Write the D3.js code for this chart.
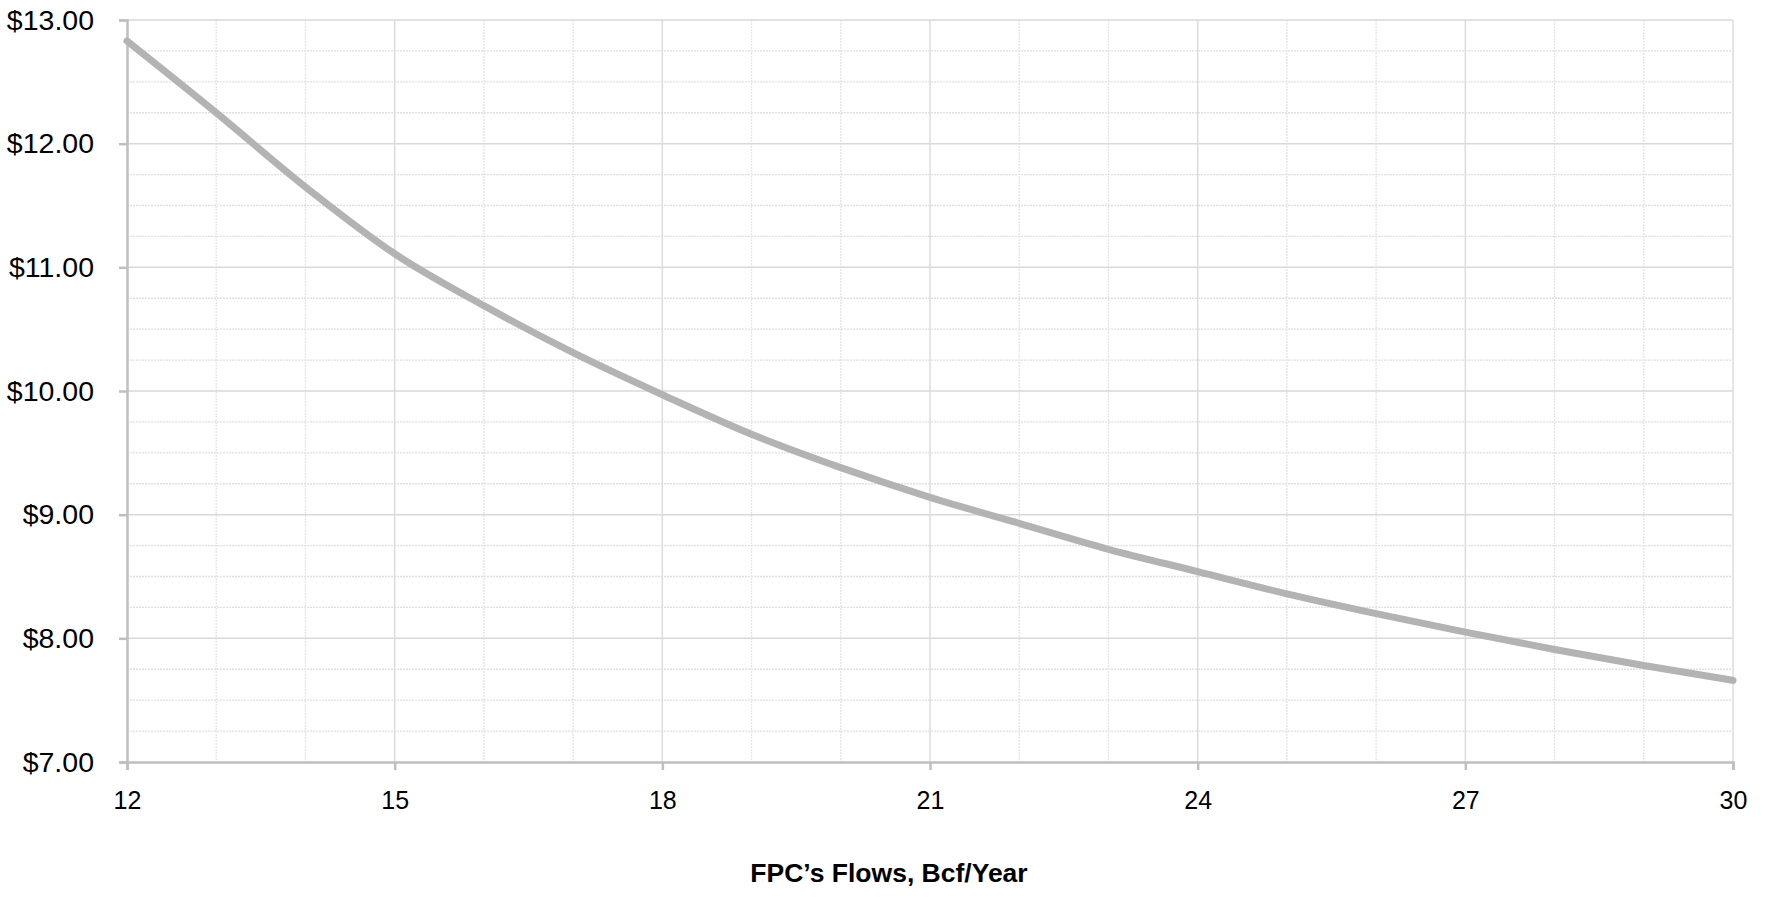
<!DOCTYPE html>
<html>
<head>
<meta charset="utf-8">
<script src="https://cdn.jsdelivr.net/npm/d3@7"></script>
<style>
  html, body { margin: 0; padding: 0; background: #ffffff; }
  svg { display: block; }
  text { font-family: "Liberation Sans", Arial, sans-serif; fill: #000; }
</style>
</head>
<body>
<svg id="chart" width="1765" height="921"></svg>
<script>
// ---- data ----
const flows = [12, 13, 14, 15, 16, 17, 18, 19, 20, 21, 22, 23, 24, 25, 26, 27, 28, 29, 30];
const prices = [12.83, 12.25, 11.65, 11.11, 10.69, 10.31, 9.97, 9.65, 9.38, 9.14, 8.93, 8.72, 8.54, 8.36, 8.20, 8.05, 7.91, 7.78, 7.66];
const xTickValues = [12, 15, 18, 21, 24, 27, 30];
const yTickValues = [7, 8, 9, 10, 11, 12, 13];
const xAxisTitle = "FPC\u2019s Flows, Bcf/Year";

// ---- layout ----
const plotL = 127, plotR = 1733, plotT = 20, plotB = 762;

const svg = d3.select("#chart");
const x = d3.scaleLinear().domain([12, 30]).range([plotL, plotR]);
const y = d3.scaleLinear().domain([7, 13]).range([plotB, plotT]);

const grid = svg.append("g");
// minor horizontal gridlines
const yMinor = d3.range(7, 13.001, 0.25).filter(v => Math.abs(v - Math.round(v)) > 1e-6);
grid.selectAll(".hminor").data(yMinor).join("line")
  .attr("x1", plotL).attr("x2", plotR)
  .attr("y1", d => y(d)).attr("y2", d => y(d))
  .attr("stroke", "#e0e0e0").attr("stroke-width", 1.3)
  .attr("stroke-dasharray", "2,1");
// minor vertical gridlines
const xMinor = d3.range(13, 30, 1).filter(v => (v - 12) % 3 !== 0);
grid.selectAll(".vminor").data(xMinor).join("line")
  .attr("x1", d => x(d)).attr("x2", d => x(d))
  .attr("y1", plotT).attr("y2", plotB)
  .attr("stroke", "#e4e4e4").attr("stroke-width", 1.3)
  .attr("stroke-dasharray", "2,1");
// major horizontal gridlines
grid.selectAll(".hmajor").data(yTickValues.filter(v => v > 7)).join("line")
  .attr("x1", plotL).attr("x2", plotR)
  .attr("y1", d => y(d)).attr("y2", d => y(d))
  .attr("stroke", "#d9d9d9").attr("stroke-width", 1.5);
// major vertical gridlines
grid.selectAll(".vmajor").data(xTickValues.filter(v => v > 12)).join("line")
  .attr("x1", d => x(d)).attr("x2", d => x(d))
  .attr("y1", plotT).attr("y2", plotB)
  .attr("stroke", "#dcdcdc").attr("stroke-width", 1.5);

// axes
const yAxis = d3.axisLeft(y).tickValues(yTickValues).tickSize(8).tickPadding(25)
  .tickFormat(d => "$" + d3.format(".2f")(d));
const gy = svg.append("g").attr("transform", `translate(${plotL},0)`).call(yAxis);
gy.select(".domain").attr("stroke", "#bfbfbf").attr("stroke-width", 2.5);
gy.selectAll(".tick line").attr("stroke", "#bfbfbf").attr("stroke-width", 2.5);
gy.selectAll(".tick text").attr("font-size", 28.5).attr("fill", "#000")
  .attr("font-family", "'Liberation Sans', Arial, sans-serif");

const xAxis = d3.axisBottom(x).tickValues(xTickValues).tickSize(8).tickPadding(21)
  .tickFormat(d3.format("d"));
const gx = svg.append("g").attr("transform", `translate(0,${plotB})`).call(xAxis);
gx.select(".domain").attr("stroke", "#bfbfbf").attr("stroke-width", 2.5);
gx.selectAll(".tick line").attr("stroke", "#bfbfbf").attr("stroke-width", 2.5);
gx.selectAll(".tick text").attr("font-size", 25).attr("fill", "#000")
  .attr("font-family", "'Liberation Sans', Arial, sans-serif");

// line
const line = d3.line().x((d, i) => x(flows[i])).y(d => y(d)).curve(d3.curveMonotoneX);
svg.append("path").datum(prices)
  .attr("d", line)
  .attr("fill", "none")
  .attr("stroke", "#b3b3b3")
  .attr("stroke-width", 7)
  .attr("stroke-linecap", "round")
  .attr("stroke-linejoin", "round");

// axis title
svg.append("text")
  .attr("x", 889).attr("y", 882)
  .attr("text-anchor", "middle")
  .attr("font-size", 26.5).attr("font-weight", "bold")
  .text(xAxisTitle);
</script>
</body>
</html>
